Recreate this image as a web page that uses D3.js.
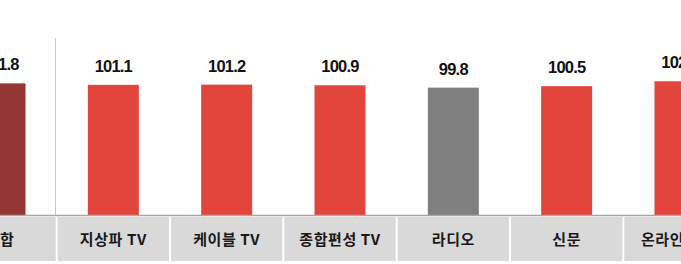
<!DOCTYPE html>
<meta charset="utf-8">
<head>
  <script src="https://d3js.org/d3.v7.min.js"></script>
  <style>
    body { margin: 0; background: #fff; }
    svg { display: block; }
  </style>
</head>
<body>
  <div id="chart"></div>
  <script>
    var categories = ["종합", "지상파 TV", "케이블 TV", "종합편성 TV", "라디오", "신문", "온라인-검색"];
    var values = [101.8, 101.1, 101.2, 100.9, 99.8, 100.5, 102.8];
    var barColors = ["#943634", "#e2453c", "#e2453c", "#e2453c", "#808080", "#e2453c", "#e2453c"];

    var width = 681, height = 264;
    var step = 113.33;
    var baseY = 215;

    var svg = d3.select("#chart").append("svg")
      .attr("width", width)
      .attr("height", height);

    var x = d3.scaleBand()
      .domain(categories)
      .range([-step / 2, -step / 2 + step * categories.length])
      .paddingInner(0.55)
      .paddingOuter(0.275);

    var y = d3.scaleLinear()
      .domain([40, 140])
      .range([baseY, 2]);

    // separator between total and media
    svg.append("line")
      .attr("x1", 55.5).attr("x2", 55.5)
      .attr("y1", 38).attr("y2", baseY)
      .attr("stroke", "#c8c8c8")
      .attr("stroke-width", 1);

    // bars
    svg.selectAll("rect.bar")
      .data(values)
      .enter().append("rect")
      .attr("class", "bar")
      .attr("x", function(d, i) { return x(categories[i]); })
      .attr("width", x.bandwidth())
      .attr("y", function(d) { return y(d); })
      .attr("height", function(d) { return baseY - y(d); })
      .attr("fill", function(d, i) { return barColors[i]; });

    // value labels
    svg.selectAll("text.val")
      .data(values)
      .enter().append("text")
      .attr("class", "val")
      .attr("x", function(d, i) { return x(categories[i]) + x.bandwidth() / 2; })
      .attr("y", function(d) { return y(d) - 13; })
      .attr("text-anchor", "middle")
      .style("font-family", "'Liberation Sans', Arial, sans-serif")
      .style("font-weight", "bold")
      .style("font-size", "16.5px")
      .style("letter-spacing", "-0.8px")
      .style("fill", "#111")
      .text(function(d) { return d.toFixed(1); });

    // category cells
    var cells = svg.selectAll("g.cell")
      .data(categories)
      .enter().append("g")
      .attr("class", "cell")
      .attr("transform", function(d) {
        return "translate(" + (x(d) + x.bandwidth() / 2) + ",0)";
      });

    cells.append("rect")
      .attr("x", -step / 2 + 1)
      .attr("width", step - 2)
      .attr("y", 217)
      .attr("height", 44)
      .attr("fill", "#d9d9d9");

    cells.append("text")
      .attr("y", 245)
      .attr("text-anchor", "middle")
      .style("font-family", "'Noto Sans CJK KR', sans-serif")
      .style("font-weight", "bold")
      .style("font-size", "15px")
      .style("letter-spacing", "0.6px")
      .style("fill", "#1a1a1a")
      .text(function(d) { return d; });

    // baseline
    svg.append("line")
      .attr("x1", 0).attr("x2", width)
      .attr("y1", baseY + 0.5).attr("y2", baseY + 0.5)
      .attr("stroke", "#a6a6a6")
      .attr("stroke-width", 1.5);
  </script>
</body>
